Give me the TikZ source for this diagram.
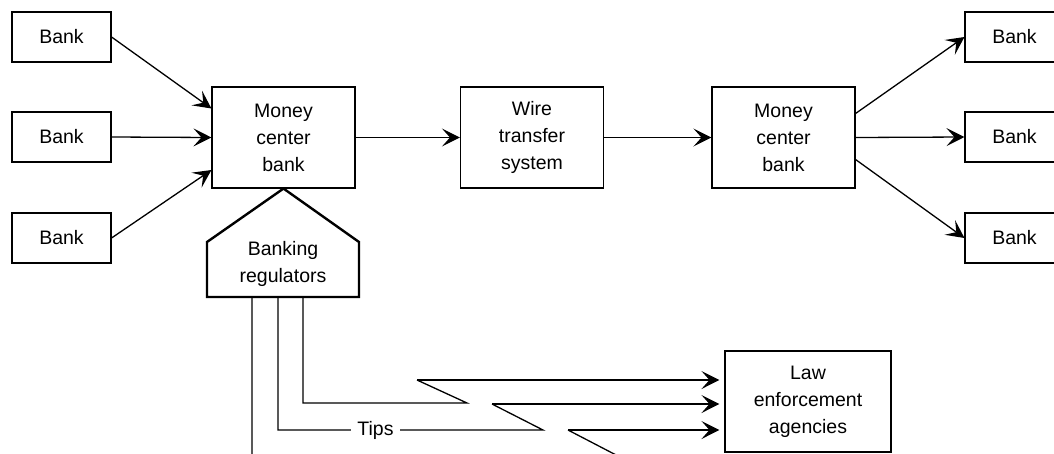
\documentclass[tikz,border=0pt]{standalone}
\usepackage{fontspec}
\setmainfont{Liberation Sans}
\usetikzlibrary{arrows.meta}

\begin{document}
\begin{tikzpicture}[
        x=1pt,
        y=-1pt,
        font=\fontsize{19.5}{27}\selectfont,
        node-box/.style={
            draw,
            line width=1.1pt,
            align=center,
            inner sep=0pt,
        },
        node-bank/.style={
            node-box,
            minimum width=99pt,
            minimum height=50pt,
        },
        node-center/.style={
            node-box,
            minimum width=143pt,
            minimum height=101pt,
        },
        link-flow/.style={
            line width=1.3pt,
            -{Stealth[length=18pt, width=18pt, inset=8pt]},
        },
        link-leg/.style={
            line width=1.3pt,
        },
        regulator/.style={
            line width=2.4pt,
            line join=miter,
        },
        label-tips/.style={
            fill=white,
            inner xsep=6pt,
            inner ysep=2pt,
        },
    ]

    \useasboundingbox (0,0) rectangle (1054,453);
    \clip (0,0) rectangle (1054,453);

    % Banks on both sides.
    \foreach \i/\y in {1/37, 2/137, 3/238}
    \node[node-bank] (bl\i) at (61.5, \y) {Bank};

    \foreach \i/\y in {1/37, 2/137, 3/238}
    \node[node-bank] (br\i) at (1014.5, \y) {Bank};

    % Main chain.
    \node[node-center] (mcl) at (283.5, 137.5) {Money\\center\\bank};
    \node[node-center] (wire) at (532, 137.5) {Wire\\transfer\\system};
    \node[node-center] (mcr) at (783.5, 137.5) {Money\\center\\bank};
    \node[node-box, minimum width=166pt, minimum height=101pt] (law)
        at (808, 401.5) {Law\\enforcement\\agencies};

    % Incoming and outgoing transfers.
    \foreach \i/\s in {1/29, 2/0, 3/-32.5}
    \draw[link-flow] (bl\i.east) -- ([yshift=\s pt]mcl.west);

    \foreach \i/\s in {1/24, 2/0, 3/-22}
    \draw[link-flow] ([yshift=\s pt]mcr.east) -- (br\i.west);

    \draw[link-flow] (mcl) -- (wire);
    \draw[link-flow] (wire) -- (mcr);

    % Regulators.
    \coordinate (reg-sw) at (207, 297);
    \coordinate (reg-nw) at (207, 242);
    \coordinate (reg-ne) at (359, 242);
    \coordinate (reg-se) at (359, 297);
    \draw[regulator] (reg-sw) -- (reg-nw) -- (mcl.south) -- (reg-ne)
        -- (reg-se) -- cycle;
    \node[align=center] (reg) at (283, 264) {Banking\\regulators};

    \coordinate (leg1) at (252, 297);
    \coordinate (leg2) at (278, 297);
    \coordinate (leg3) at (303, 297);

    % Tips to law enforcement.
    \draw[link-leg] (leg3) |- (467, 403) -- (417, 380);
    \draw[link-flow] (417, 380) -- ([xshift=-5pt, yshift=21.5pt]law.west);

    \draw[link-leg] (leg2) |- (543, 430) -- (492, 404);
    \draw[link-flow] (492, 404) -- ([xshift=-5pt, yshift=-2.5pt]law.west);
    \node[label-tips] (tips) at (375.5, 430) {Tips};

    \draw[link-leg] (leg1) |- (618, 456) -- (568, 430);
    \draw[link-flow] (568, 430) -- ([xshift=-5pt, yshift=-28.5pt]law.west);
\end{tikzpicture}
\end{document}
